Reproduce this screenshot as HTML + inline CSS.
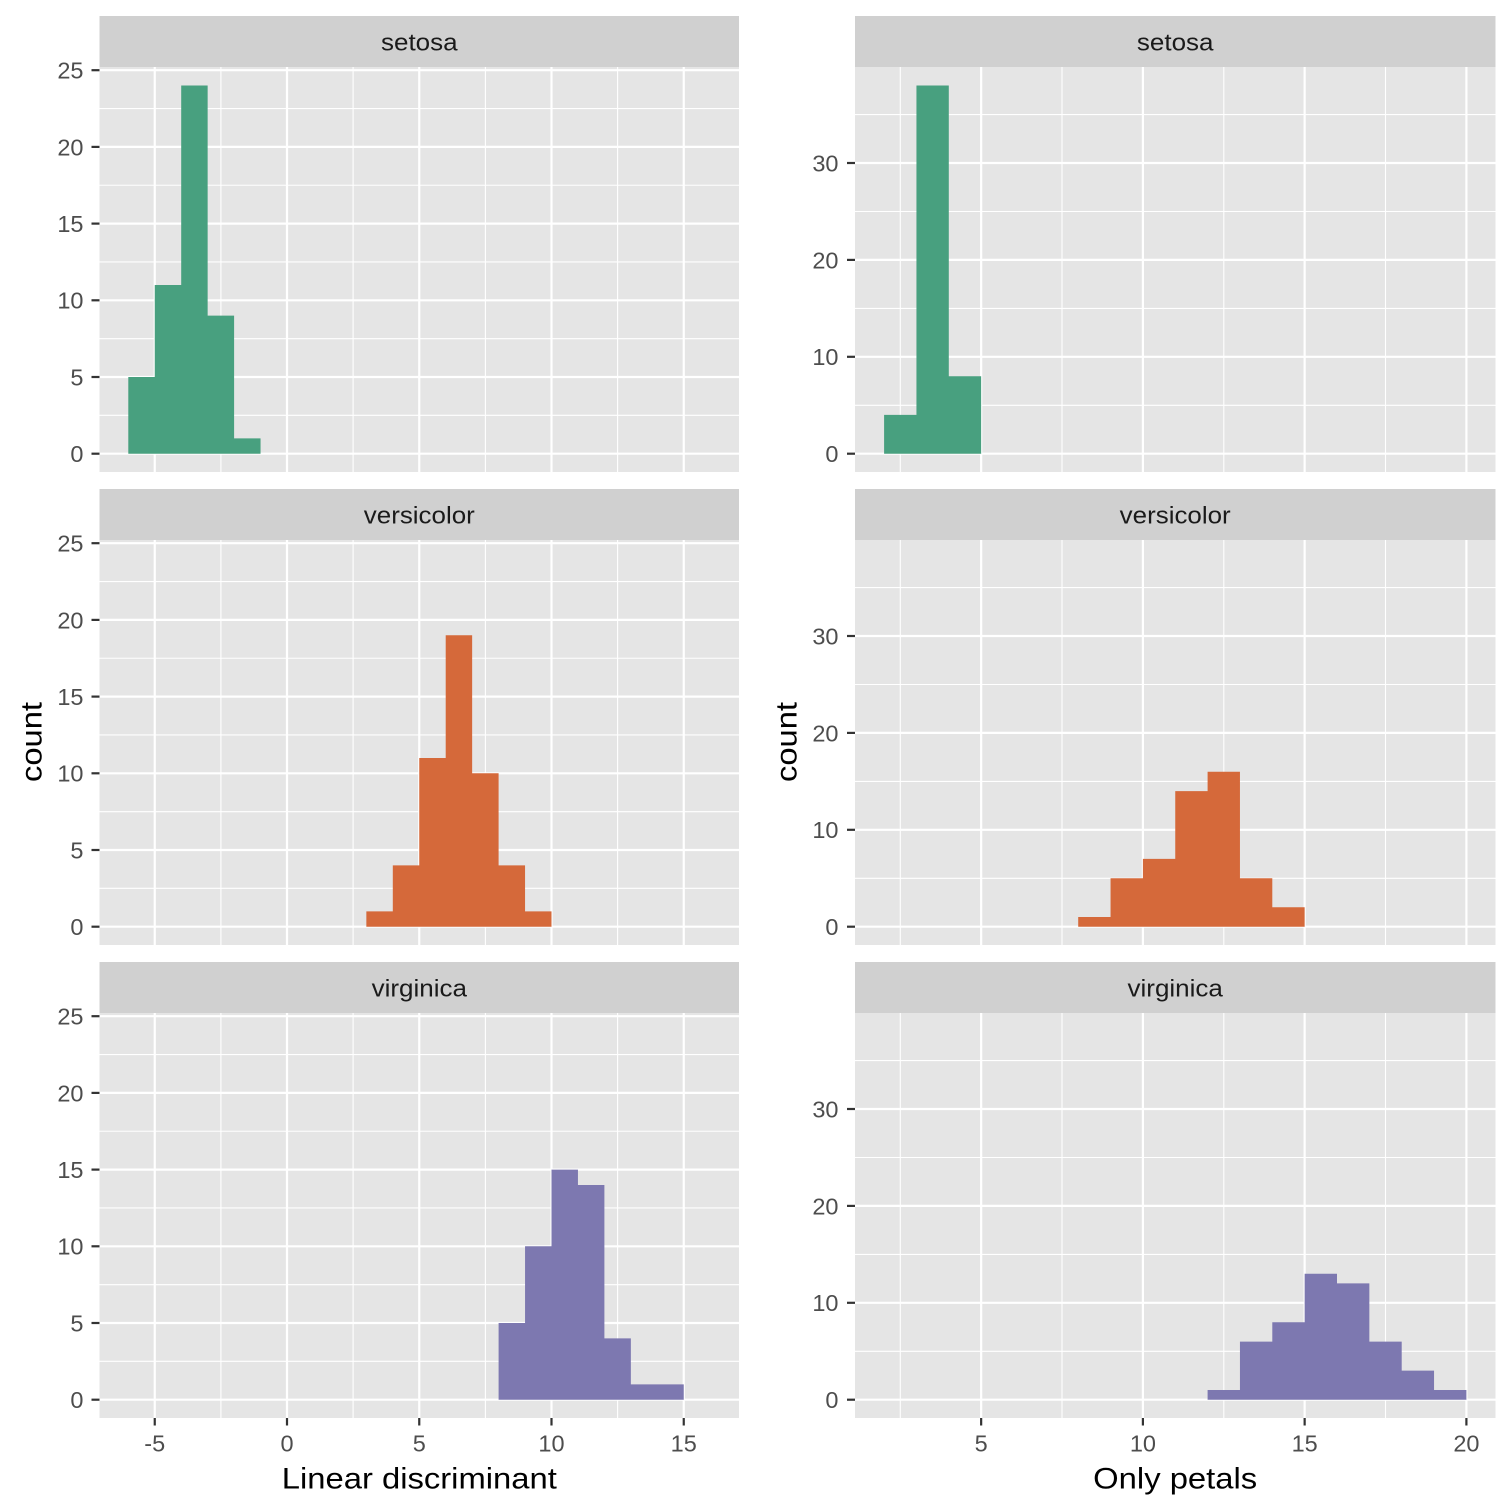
<!DOCTYPE html>
<html><head><meta charset="utf-8"><style>
html,body{margin:0;padding:0;background:#fff;}
svg{display:block;}
text{font-family:"Liberation Sans",Arial,sans-serif;}
.yt{font-size:23.5px;fill:#4d4d4d;text-anchor:end;}
.xt{font-size:23.5px;fill:#4d4d4d;text-anchor:middle;}
.st{font-size:24px;fill:#1a1a1a;text-anchor:middle;}
.ti{font-size:29.7px;fill:#000;text-anchor:middle;}
.bg{fill:#e5e5e5;}
.strip{fill:#d0d0d0;}
.mj{stroke:#fff;stroke-width:2.2;}
.mn{stroke:#fff;stroke-width:1.1;}
.tk{stroke:#333;stroke-width:2.2;}
</style></head><body>
<svg width="1512" height="1512" viewBox="0 0 1512 1512" xmlns="http://www.w3.org/2000/svg">
<rect width="1512" height="1512" fill="#fff"/>

<defs>
<g id="leftpanel">
  <rect class="strip" x="99.5" y="16" width="639.5" height="51"/>
  <rect class="bg" x="99.5" y="67" width="639.5" height="405"/>
  <g class="mn">
    <line x1="99.5" x2="739" y1="415.35" y2="415.35"/>
    <line x1="99.5" x2="739" y1="338.65" y2="338.65"/>
    <line x1="99.5" x2="739" y1="261.95" y2="261.95"/>
    <line x1="99.5" x2="739" y1="185.25" y2="185.25"/>
    <line x1="99.5" x2="739" y1="108.55" y2="108.55"/>
    <line y1="67" y2="472" x1="220.9" x2="220.9"/>
    <line y1="67" y2="472" x1="353.1" x2="353.1"/>
    <line y1="67" y2="472" x1="485.4" x2="485.4"/>
    <line y1="67" y2="472" x1="617.6" x2="617.6"/>
  </g>
  <g class="mj">
    <line x1="99.5" x2="739" y1="453.7" y2="453.7"/>
    <line x1="99.5" x2="739" y1="377.0" y2="377.0"/>
    <line x1="99.5" x2="739" y1="300.3" y2="300.3"/>
    <line x1="99.5" x2="739" y1="223.6" y2="223.6"/>
    <line x1="99.5" x2="739" y1="146.9" y2="146.9"/>
    <line x1="99.5" x2="739" y1="70.2" y2="70.2"/>
    <line y1="67" y2="472" x1="154.75" x2="154.75"/>
    <line y1="67" y2="472" x1="287" x2="287"/>
    <line y1="67" y2="472" x1="419.25" x2="419.25"/>
    <line y1="67" y2="472" x1="551.5" x2="551.5"/>
    <line y1="67" y2="472" x1="683.75" x2="683.75"/>
  </g>
  <g class="tk">
    <line x1="91.5" x2="99.5" y1="453.7" y2="453.7"/>
    <line x1="91.5" x2="99.5" y1="377.0" y2="377.0"/>
    <line x1="91.5" x2="99.5" y1="300.3" y2="300.3"/>
    <line x1="91.5" x2="99.5" y1="223.6" y2="223.6"/>
    <line x1="91.5" x2="99.5" y1="146.9" y2="146.9"/>
    <line x1="91.5" x2="99.5" y1="70.2" y2="70.2"/>
  </g>
  <text class="yt" x="83.5" y="462.1">0</text>
  <text class="yt" x="83.5" y="385.4">5</text>
  <text class="yt" x="83.5" y="308.7">10</text>
  <text class="yt" x="83.5" y="232.0">15</text>
  <text class="yt" x="83.5" y="155.3">20</text>
  <text class="yt" x="83.5" y="78.6">25</text>
</g>

<g id="rightpanel">
  <rect class="strip" x="855" y="16" width="640.5" height="51"/>
  <rect class="bg" x="855" y="67" width="640.5" height="405"/>
  <g class="mn">
    <line x1="855" x2="1495.5" y1="405.3" y2="405.3"/>
    <line x1="855" x2="1495.5" y1="308.4" y2="308.4"/>
    <line x1="855" x2="1495.5" y1="211.5" y2="211.5"/>
    <line x1="855" x2="1495.5" y1="114.6" y2="114.6"/>
    <line y1="67" y2="472" x1="900.3" x2="900.3"/>
    <line y1="67" y2="472" x1="1062.0" x2="1062.0"/>
    <line y1="67" y2="472" x1="1223.8" x2="1223.8"/>
    <line y1="67" y2="472" x1="1385.5" x2="1385.5"/>
  </g>
  <g class="mj">
    <line x1="855" x2="1495.5" y1="453.7" y2="453.7"/>
    <line x1="855" x2="1495.5" y1="356.8" y2="356.8"/>
    <line x1="855" x2="1495.5" y1="259.9" y2="259.9"/>
    <line x1="855" x2="1495.5" y1="163.0" y2="163.0"/>
    <line y1="67" y2="472" x1="981.15" x2="981.15"/>
    <line y1="67" y2="472" x1="1142.9" x2="1142.9"/>
    <line y1="67" y2="472" x1="1304.65" x2="1304.65"/>
    <line y1="67" y2="472" x1="1466.4" x2="1466.4"/>
  </g>
  <g class="tk">
    <line x1="847" x2="855" y1="453.7" y2="453.7"/>
    <line x1="847" x2="855" y1="356.8" y2="356.8"/>
    <line x1="847" x2="855" y1="259.9" y2="259.9"/>
    <line x1="847" x2="855" y1="163.0" y2="163.0"/>
  </g>
  <text class="yt" x="838.5" y="462.1">0</text>
  <text class="yt" x="838.5" y="365.2">10</text>
  <text class="yt" x="838.5" y="268.3">20</text>
  <text class="yt" x="838.5" y="171.4">30</text>
</g>
</defs>

<!-- Row 1 -->
<use href="#leftpanel"/>
<use href="#rightpanel"/>
<text class="st" x="419.3" y="50.7" textLength="76.6" lengthAdjust="spacingAndGlyphs">setosa</text>
<text class="st" x="1175.2" y="50.7" textLength="76.6" lengthAdjust="spacingAndGlyphs">setosa</text>
<path fill="#48a07f" d="M128.3,453.7 V377 H154.75 V284.96 H181.2 V85.54 H207.65 V315.64 H234.1 V438.36 H260.55 V453.7 Z"/>
<path fill="#48a07f" d="M884.1,453.7 V414.9 H916.45 V85.5 H948.8 V376.2 H981.15 V453.7 Z"/>

<!-- Row 2 -->
<g transform="translate(0,473)">
<use href="#leftpanel"/>
<use href="#rightpanel"/>
<text class="st" x="419.3" y="50.7" textLength="111" lengthAdjust="spacingAndGlyphs">versicolor</text>
<text class="st" x="1175.2" y="50.7" textLength="111" lengthAdjust="spacingAndGlyphs">versicolor</text>
<path fill="#d5693a" d="M366.35,453.7 V438.36 H392.8 V392.34 H419.25 V284.96 H445.7 V162.24 H472.15 V300.3 H498.6 V392.34 H525.05 V438.36 H551.5 V453.7 Z"/>
<path fill="#d5693a" d="M1078.2,453.7 V444.0 H1110.55 V405.3 H1142.9 V385.9 H1175.25 V318.1 H1207.6 V298.7 H1239.95 V405.3 H1272.3 V434.3 H1304.65 V453.7 Z"/>
</g>

<!-- Row 3 -->
<g transform="translate(0,946)">
<use href="#leftpanel"/>
<use href="#rightpanel"/>
<text class="st" x="419.3" y="50.7" textLength="95.4" lengthAdjust="spacingAndGlyphs">virginica</text>
<text class="st" x="1175.2" y="50.7" textLength="95.4" lengthAdjust="spacingAndGlyphs">virginica</text>
<path fill="#7d78b0" d="M498.6,453.7 V377.0 H525.05 V300.3 H551.5 V223.6 H577.95 V238.94 H604.4 V392.34 H630.85 V438.36 H683.75 V453.7 Z"/>
<path fill="#7d78b0" d="M1207.6,453.7 V444.0 H1239.95 V395.6 H1272.3 V376.2 H1304.65 V327.7 H1337.0 V337.4 H1369.35 V395.6 H1401.7 V424.6 H1434.05 V444.0 H1466.4 V453.7 Z"/>
</g>

<!-- X axis ticks -->
<g class="tk">
  <line y1="1418" y2="1425.5" x1="154.75" x2="154.75"/>
  <line y1="1418" y2="1425.5" x1="287" x2="287"/>
  <line y1="1418" y2="1425.5" x1="419.25" x2="419.25"/>
  <line y1="1418" y2="1425.5" x1="551.5" x2="551.5"/>
  <line y1="1418" y2="1425.5" x1="683.75" x2="683.75"/>
  <line y1="1418" y2="1425.5" x1="981.15" x2="981.15"/>
  <line y1="1418" y2="1425.5" x1="1142.9" x2="1142.9"/>
  <line y1="1418" y2="1425.5" x1="1304.65" x2="1304.65"/>
  <line y1="1418" y2="1425.5" x1="1466.4" x2="1466.4"/>
</g>
<text class="xt" x="154.75" y="1451.5">-5</text>
<text class="xt" x="287" y="1451.5">0</text>
<text class="xt" x="419.25" y="1451.5">5</text>
<text class="xt" x="551.5" y="1451.5">10</text>
<text class="xt" x="683.75" y="1451.5">15</text>
<text class="xt" x="981.15" y="1451.5">5</text>
<text class="xt" x="1142.9" y="1451.5">10</text>
<text class="xt" x="1304.65" y="1451.5">15</text>
<text class="xt" x="1466.4" y="1451.5">20</text>

<!-- Axis titles -->
<text class="ti" x="419.3" y="1488.3" textLength="275" lengthAdjust="spacingAndGlyphs">Linear discriminant</text>
<text class="ti" x="1175.2" y="1488.3" textLength="164" lengthAdjust="spacingAndGlyphs">Only petals</text>
<text class="ti" transform="translate(41.5,742) rotate(-90)" textLength="80" lengthAdjust="spacingAndGlyphs">count</text>
<text class="ti" transform="translate(796.5,742) rotate(-90)" textLength="80" lengthAdjust="spacingAndGlyphs">count</text>
</svg>
</body></html>
